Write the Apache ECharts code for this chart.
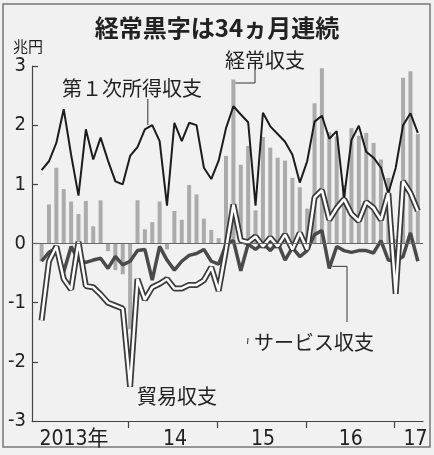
<!DOCTYPE html>
<html><head><meta charset="utf-8">
<script src="https://cdn.jsdelivr.net/npm/echarts@6/dist/echarts.min.js"></script>
<style>html,body{margin:0;padding:0;background:#f1f1f1}#c{width:434px;height:455px}</style>
</head><body><div id="c"></div>
<script>
// Monthly, Jan 2013 (index 0) .. Apr 2017 (index 51), trillion yen
const currentAccount = [-0.30,0.66,1.28,0.92,0.71,0.50,0.72,0.29,0.73,-0.13,-0.45,-0.52,
  -1.45,0.73,0.24,0.36,0.71,-0.10,0.55,0.40,0.99,0.83,0.42,0.23,
  0.09,1.48,2.77,1.33,1.65,0.56,1.80,1.62,1.45,1.40,1.11,0.95,
  0.59,2.37,2.96,1.88,1.81,0.99,1.95,1.82,1.87,1.70,1.42,1.11,
  0.07,2.80,2.91,1.85];
const primaryIncome = [1.24,1.39,1.70,2.27,1.50,0.81,1.93,1.42,1.79,1.40,1.05,1.00,
  1.48,1.63,1.93,2.00,1.73,0.64,2.04,1.73,2.04,2.00,1.28,1.09,
  1.40,1.95,2.32,2.18,2.05,0.64,2.21,1.98,1.85,1.72,1.50,1.03,
  1.39,2.06,2.16,1.77,1.90,0.77,1.75,1.99,1.55,1.45,1.28,0.85,
  1.28,2.00,2.20,1.87];
const tradeBalance = [-1.30,-0.30,-0.05,-0.60,-0.78,0.03,-0.72,-0.74,-0.86,-1.00,-1.05,-1.10,
  -2.42,-0.60,-0.95,-0.74,-0.68,-0.60,-0.76,-0.76,-0.70,-0.70,-0.62,-0.40,
  -0.80,-0.10,0.66,0.05,0.02,0.12,-0.05,0.10,-0.05,0.15,-0.10,0.18,
  -0.10,0.78,0.90,0.40,0.60,0.75,0.50,0.38,0.70,0.60,0.40,0.85,
  -0.85,1.05,0.85,0.55];
const servicesBalance = [-0.30,-0.15,-0.08,-0.48,-0.05,-0.28,-0.32,-0.28,-0.25,-0.42,-0.22,-0.36,
  -0.30,-0.12,-0.10,-0.62,-0.05,-0.28,-0.45,-0.30,-0.20,-0.17,-0.10,-0.30,
  -0.35,-0.02,0.05,-0.46,-0.01,-0.10,0.00,-0.12,0.02,-0.28,-0.07,-0.22,
  -0.12,0.15,0.22,-0.42,-0.05,-0.12,-0.15,-0.12,-0.12,-0.16,0.05,-0.28,
  -0.30,-0.22,0.18,-0.30];
const yearTickPos = [11.7, 23.8, 35.9, 47.8];
const yearLabelPos = [4.4, 18.1, 30.0, 41.9, 50.7];
const yearLabels = ['2013年', '14', '15', '16', '17'];
const titleText = '経常黒字は34ヵ月連続';
const unitText = '兆円';
const names = {ca: '経常収支', pi: '第１次所得収支', tr: '貿易収支', sv: 'サービス収支'};

const pts = arr => arr.map((v, i) => [i, v]);
const numFont = '"Liberation Sans Narrow","DejaVu Sans Condensed","Noto Sans CJK JP",sans-serif';
const jpFont = '"Noto Sans CJK JP",sans-serif';

const chart = echarts.init(document.getElementById('c'), null, {renderer: 'canvas'});
chart.setOption({
  backgroundColor: '#f1f1f1',
  animation: false,
  grid: {left: 32, right: 11, top: 66, bottom: 34},
  xAxis: {
    type: 'value', min: -1.3, max: 51.7,
    axisLine: {show: true, onZero: false, lineStyle: {color: '#444', width: 1.2}},
    axisTick: {show: true, customValues: yearTickPos, length: 7, lineStyle: {color: '#444', width: 1.2}},
    axisLabel: {customValues: yearLabelPos, formatter: v => { const k = yearLabelPos.indexOf(v); return k >= 0 ? yearLabels[k] : ''; },
      margin: 8, fontSize: 21, fontFamily: numFont, color: '#222'},
    splitLine: {show: false}
  },
  yAxis: {
    type: 'value', min: -3, max: 3, interval: 1,
    axisLine: {show: true, onZero: false, lineStyle: {color: '#444', width: 1.2}},
    axisTick: {show: true, inside: true, length: 6, lineStyle: {color: '#444', width: 1.2}},
    axisLabel: {fontSize: 20, fontFamily: numFont, color: '#222', margin: 6},
    splitLine: {show: false}
  },
  series: [
    {name: names.ca, type: 'bar', data: pts(currentAccount), barWidth: 4,
     itemStyle: {color: '#ababab'},
     markLine: {silent: true, symbol: 'none', label: {show: false},
       lineStyle: {color: '#666', width: 1.2, type: 'solid'}, data: [{yAxis: 0}]}},
    {name: names.pi, type: 'line', data: pts(primaryIncome), showSymbol: false, symbol: 'none',
     lineStyle: {color: '#1c1c1c', width: 2}},
    {name: names.sv, type: 'line', data: pts(servicesBalance), symbol: 'none',
     lineStyle: {color: '#4a4a4a', width: 3.5}},
    {name: names.tr + '_o', type: 'line', data: pts(tradeBalance), symbol: 'none',
     lineStyle: {color: '#3a3a3a', width: 6}},
    {name: names.tr, type: 'line', data: pts(tradeBalance), symbol: 'none',
     lineStyle: {color: '#ffffff', width: 2.5}}
  ]
});

const px = (x, y) => chart.convertToPixel({xAxisIndex: 0, yAxisIndex: 0}, [x, y]);
const pPI = px(14.4, primaryIncome[15]);
const pCA = px(26, currentAccount[26]);
const pSV = px(39, servicesBalance[39]);
const txt = (t, x, y, size, weight) => ({type: 'text', x, y, style: {text: t, fill: '#222',
  font: (weight || 'normal') + ' ' + size + 'px ' + jpFont, textAlign: 'center', textVerticalAlign: 'middle'}});
const line = pts2 => ({type: 'polyline', shape: {points: pts2}, style: {stroke: '#333', lineWidth: 1, fill: null}});

chart.setOption({graphic: [
  {type: 'rect', shape: {x: 3, y: 4, width: 427, height: 443}, style: {stroke: '#777', lineWidth: 1.5, fill: null}},
  txt(titleText, 217, 28, 24, 'bold'),
  txt(unitText, 28, 46, 15),
  txt(names.pi, 132, 88, 20),
  txt(names.ca, 265, 60, 20),
  txt(names.tr, 177, 396, 20),
  txt(names.sv, 314, 342, 20),
  line([[pPI[0], 99], [pPI[0], pPI[1]]]),
  line([[255, 70], [255, 83], [pCA[0] + 2, 83]]),
  line([[pSV[0] + 3, pSV[1] - 2], [347, pSV[1] - 2], [347, 322]]),
  line([[248, 338], [247.5, 344]])
]});
</script></body></html>
